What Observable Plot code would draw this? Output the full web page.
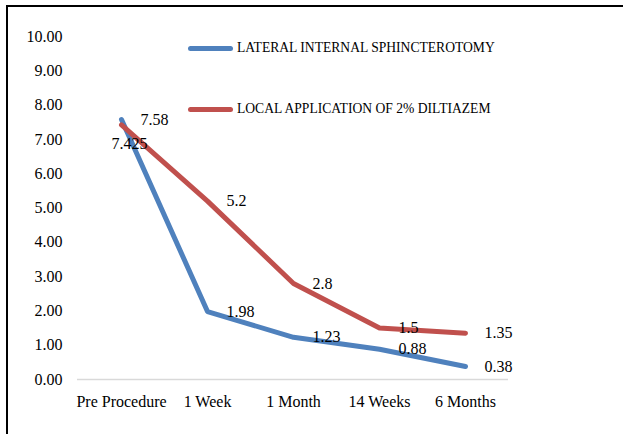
<!DOCTYPE html>
<html>
<head>
<meta charset="utf-8">
<script src="https://cdn.jsdelivr.net/npm/d3@7"></script>
<script src="https://cdn.jsdelivr.net/npm/@observablehq/plot@0.6"></script>
<style>
  html, body { margin: 0; padding: 0; background: #fff; overflow: hidden; width: 623px; height: 434px; }
  #wrap { position: relative; width: 623px; height: 434px; }
  #frame { position: absolute; left: 6px; top: 5px; width: 700px; height: 500px; border: 2px solid #000; box-sizing: border-box; }
  #chart { position: absolute; left: 0; top: 0; }
  #chart svg, #chart svg text { font-family: "Liberation Serif", "Times New Roman", serif !important; }
  .leg { position: absolute; left: 188px; display: flex; align-items: center; font-family: "Liberation Serif", "Times New Roman", serif; font-size: 13.6px; color: #000; white-space: nowrap; }
  .sw { width: 45px; height: 5px; border-radius: 3px; margin-right: 4px; }
</style>
</head>
<body>
<div id="wrap">
  <div id="frame"></div>
  <div id="chart"></div>
</div>
<script>
const categories = ["Pre Procedure", "1 Week", "1 Month", "14 Weeks", "6 Months"];
const lisValues = [7.58, 1.98, 1.23, 0.88, 0.38];
const diltiazemValues = [7.425, 5.2, 2.8, 1.5, 1.35];
const seriesNames = ["LATERAL INTERNAL SPHINCTEROTOMY", "LOCAL APPLICATION OF 2% DILTIAZEM"];
const seriesColors = ["#4F81BD", "#C0504D"];
const yTicks = [0, 1, 2, 3, 4, 5, 6, 7, 8, 9, 10];

const seriesValues = [lisValues, diltiazemValues];
const rows = [];
seriesValues.forEach((vals, s) => {
  vals.forEach((v, i) => rows.push({series: seriesNames[s], s, i, cat: categories[i], value: v, label: String(v)}));
});

const font = "Liberation Serif";

const chart = Plot.plot({
  width: 623,
  height: 434,
  marginLeft: 77,
  marginRight: 115,
  marginTop: 36,
  marginBottom: 55,
  style: {fontFamily: font, fontSize: "16px", color: "#000", background: "transparent", overflow: "visible"},
  x: {type: "point", domain: categories, padding: 0.5, label: null},
  y: {domain: [0, 10], ticks: yTicks, label: null},
  color: {domain: seriesNames, range: seriesColors},
  marks: [
    Plot.ruleY([0], {stroke: "#d9d9d9", strokeWidth: 1.5}),
    Plot.axisY({ticks: yTicks, tickFormat: d => d.toFixed(2), tickSize: 0, tickPadding: 15, label: null, fontSize: 16, fontFamily: font, fill: "#000"}),
    Plot.axisX({tickSize: 0, tickPadding: 16, label: null, fontSize: 16, fontFamily: font, fill: "#000"}),
    Plot.line(rows.filter(d => d.s === 0), {x: "cat", y: "value", stroke: d => d.series, strokeWidth: 5, strokeLinecap: "round", strokeLinejoin: "round"}),
    Plot.line(rows.filter(d => d.s === 1), {x: "cat", y: "value", stroke: d => d.series, strokeWidth: 5, strokeLinecap: "round", strokeLinejoin: "round"}),
    Plot.text(rows.filter(d => !(d.s === 1 && d.i === 0)), {x: "cat", y: "value", text: "label", textAnchor: "start", dx: 19, fontSize: 16, fontFamily: font, fill: "#000"}),
    Plot.text(rows.filter(d => d.s === 1 && d.i === 0), {x: "cat", y: "value", text: "label", textAnchor: "middle", dx: 8, dy: 19, fontSize: 16, fontFamily: font, fill: "#000"})
  ]
});
document.getElementById("chart").appendChild(chart);

// legend
const wrap = document.getElementById("wrap");
const legendTops = [48, 109];
seriesNames.forEach((name, s) => {
  const item = document.createElement("div");
  item.className = "leg";
  item.style.top = (legendTops[s] - 8) + "px";
  item.style.height = "16px";
  const sw = document.createElement("span");
  sw.className = "sw";
  sw.style.background = seriesColors[s];
  const t = document.createElement("span");
  t.textContent = name;
  item.appendChild(sw);
  item.appendChild(t);
  wrap.appendChild(item);
});
</script>
</body>
</html>
